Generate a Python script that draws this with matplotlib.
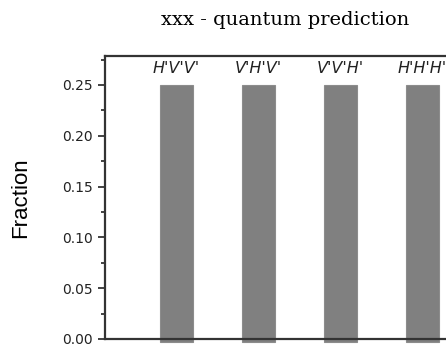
import numpy as np
import matplotlib.pyplot as plt
from matplotlib.ticker import MultipleLocator

# quantum prediction for the xxx measurement
states = ["H'V'V'", "V'H'V'", "V'V'H'", "H'H'H'"]
fraction = [0.25, 0.25, 0.25, 0.25]

fig = plt.figure(figsize=(4.46, 3.52), dpi=100)
# axes runs off the right edge, like the cropped original
ax = fig.add_axes([105/446, 13/352, 389/446, 283/352])

x = np.arange(1, len(states) + 1)
# bars hang a little below the zero line
drop = 0.003
bars = ax.bar(x, np.array(fraction) + drop, width=0.41, bottom=-drop, color="#808080",
              edgecolor="#8c8c8c", linewidth=0.8, zorder=1)
for b in bars:
    b.set_clip_on(False)

for xi, f, s in zip(x, fraction, states):
    ax.text(xi, f + 0.009, s, ha="center", va="bottom", fontsize=11.5,
            style="italic", family="DejaVu Sans", color="#222222")

ax.set_xlim(0.13, 4.87)
ax.set_ylim(0, 0.2785)
ax.yaxis.set_major_locator(MultipleLocator(0.05))
ax.yaxis.set_minor_locator(MultipleLocator(0.025))
ax.yaxis.set_major_formatter(plt.FormatStrFormatter("%.2f"))
ax.tick_params(axis="y", which="major", direction="out", length=5, width=1.2,
               labelsize=10, pad=4, colors="#222222")
ax.tick_params(axis="y", which="minor", direction="out", length=3, width=1.2,
               colors="#222222")
ax.set_xticks([])
for side in ["left", "bottom", "top", "right"]:
    ax.spines[side].set_linewidth(1.6)
    ax.spines[side].set_color("#333333")
    ax.spines[side].set_zorder(3)

ax.set_ylabel("Fraction", fontsize=16, family="Liberation Sans", labelpad=22)

fig.text(285/446, 1 - 20/352, "xxx - quantum prediction", ha="center", va="center",
         fontsize=14, family="DejaVu Serif")

plt.savefig("out.png", dpi=100)
